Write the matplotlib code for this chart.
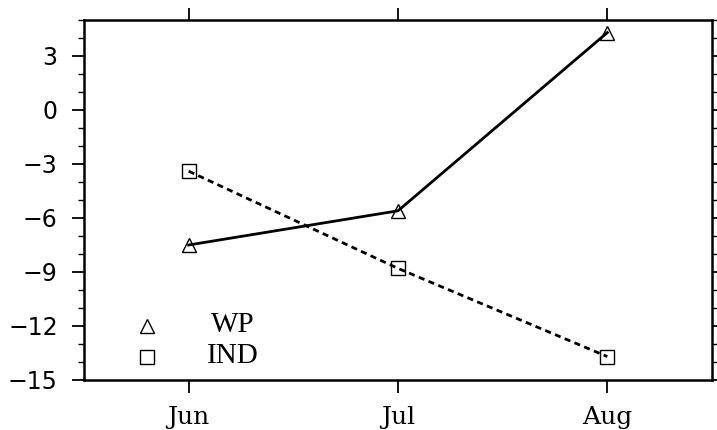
import numpy as np
import matplotlib.pyplot as plt
from matplotlib.ticker import MultipleLocator

# monthly values for the two indices
months = ['Jun', 'Jul', 'Aug']
wp = [-7.5, -5.6, 4.3]
ind = [-3.4, -8.8, -13.7]

fig = plt.figure(figsize=(7.17, 4.30), dpi=100, facecolor='w')
ax = fig.add_axes([0.1172, 0.1163, 0.8758, 0.8372])

x = np.arange(len(months))
ax.plot(x, wp, color='black', lw=2, ls='-', marker='^', ms=10,
        mfc='none', mec='black', mew=1)
ax.plot(x, ind, color='black', lw=2, ls=(0, (2.2, 1.6)), marker='s', ms=9.5,
        mfc='none', mec='black', mew=1)

ax.set_xlim(-0.5, 2.5)
ax.set_ylim(-15, 5)
ax.set_xticks(x)
ax.set_xticklabels(months, family='DejaVu Serif', fontsize=18)
ax.set_yticks(np.arange(-15, 4, 3))
ax.yaxis.set_minor_locator(MultipleLocator(1))
for lab in ax.get_yticklabels():
    lab.set_family('DejaVu Sans')
    lab.set_fontsize(17)

for s in ax.spines.values():
    s.set_linewidth(1.8)

ax.tick_params(axis='y', which='major', direction='out', length=9, width=1.3,
               left=True, right=True, pad=10)
ax.tick_params(axis='y', which='minor', direction='out', length=4.5, width=1.0,
               left=True, right=True)
ax.tick_params(axis='x', which='major', direction='out', length=9, width=1.3,
               top=True, bottom=True, pad=10)

# legend drawn by hand in the lower left corner
ax.plot([-0.2], [-12.0], marker='^', ms=10, mfc='none', mec='black', mew=1)
ax.plot([-0.2], [-13.7], marker='s', ms=9.5, mfc='none', mec='black', mew=1)
ax.text(0.21, -11.95, 'WP', family='Liberation Serif', fontsize=21,
        ha='center', va='center')
ax.text(0.21, -13.65, 'IND', family='Liberation Serif', fontsize=21,
        ha='center', va='center')

fig.savefig('out.png', dpi=100)
